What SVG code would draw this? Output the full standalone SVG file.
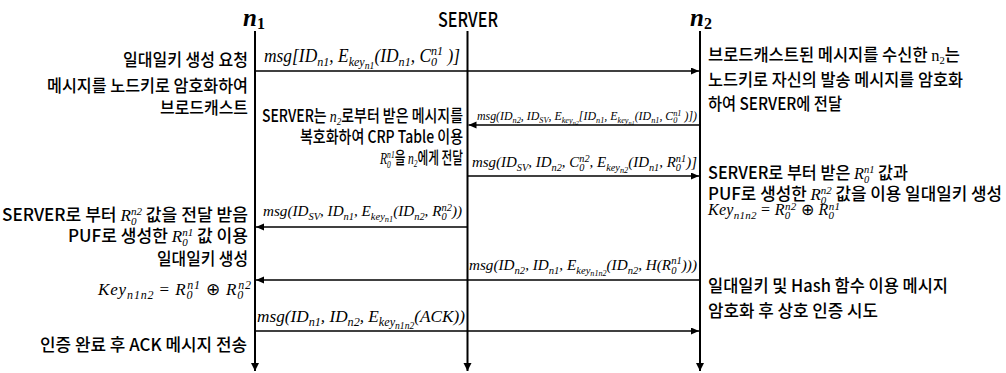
<svg xmlns="http://www.w3.org/2000/svg" width="1006" height="373" viewBox="0 0 1006 373">
  <style>
    .life { stroke:#000; stroke-width:2; fill:none; }
    .msg { stroke:#000; stroke-width:1.5; fill:none; marker-end:url(#head); }
    .hd { font-family:"Liberation Serif", serif; font-style:italic; font-weight:bold; font-size:25px; }
    .sv { font-family:"Noto Sans CJK KR", "Liberation Sans", sans-serif; font-size:20px; font-weight:500; }
    .k { font-family:"Noto Sans CJK KR", "Liberation Sans", sans-serif; font-size:17px; font-weight:500; fill:#000; }
    .m { font-family:"Liberation Serif", serif; font-style:italic; fill:#000; }
    .mi { font-family:"Liberation Serif", serif; font-style:italic; font-weight:normal; }
    .up { font-family:"Liberation Serif", serif; font-weight:normal; }
  </style>
  <defs>
    <marker id="head" markerUnits="userSpaceOnUse" markerWidth="9" markerHeight="8" refX="8" refY="3.5" orient="auto">
      <path d="M0,0 L8,3.5 L0,7 z" fill="#000"/>
    </marker>
    <marker id="down" markerUnits="userSpaceOnUse" markerWidth="10" markerHeight="10" refX="8" refY="4" orient="auto">
      <path d="M0,0 L8,4 L0,8 z" fill="#000"/>
    </marker>
  </defs>
  <rect width="1006" height="373" fill="#fff"/>

  <!-- participant n1 -->
  <g id="n1">
    <text class="hd" x="243" y="26">n<tspan font-size="16" font-style="normal" dy="3">1</tspan></text>
    <line class="life" x1="255" y1="31" x2="255" y2="371" marker-end="url(#down)"/>
  </g>

  <!-- participant SERVER -->
  <g id="server">
    <text class="sv" x="438" y="27" textLength="60" lengthAdjust="spacingAndGlyphs">SERVER</text>
    <line class="life" x1="467.5" y1="31" x2="467.5" y2="371" marker-end="url(#down)"/>
  </g>

  <!-- participant n2 -->
  <g id="n2">
    <text class="hd" x="690" y="26">n<tspan font-size="16" font-style="normal" dy="3">2</tspan></text>
    <line class="life" x1="700" y1="31" x2="700" y2="371" marker-end="url(#down)"/>
  </g>

  <!-- messages -->
  <g id="connectors">
    <line class="msg" x1="255" y1="71" x2="699" y2="71"/>
    <line class="msg" x1="700" y1="125" x2="468.5" y2="125"/>
    <line class="msg" x1="467.5" y1="176" x2="699" y2="176"/>
    <line class="msg" x1="467.5" y1="227" x2="256" y2="227"/>
    <line class="msg" x1="700" y1="280" x2="256" y2="280"/>
    <line class="msg" x1="255" y1="331" x2="699" y2="331"/>

    <!-- message labels -->
    <text class="m" x="264" y="62" font-size="18" textLength="196" lengthAdjust="spacingAndGlyphs">msg[ID<tspan font-size="12.5" dy="4">n1</tspan><tspan dy="-4">, E</tspan><tspan font-size="12.5" dy="4">key</tspan><tspan font-size="10" dy="3">n1</tspan><tspan dy="-7">(ID</tspan><tspan font-size="12.5" dy="4">n1</tspan><tspan dy="-4">, C</tspan><tspan font-size="12.5" dy="4">0</tspan><tspan font-size="12.5" dx="-6.3" dy="-11">n1</tspan><tspan dy="7"> )]</tspan></text>

    <text class="m" x="477" y="120" font-size="11.5" textLength="220" lengthAdjust="spacingAndGlyphs">msg(ID<tspan font-size="8" dy="2.5">n2</tspan><tspan dy="-2.5">,  ID</tspan><tspan font-size="8" dy="2.5">SV</tspan><tspan dy="-2.5">,  E</tspan><tspan font-size="8" dy="2.5">key</tspan><tspan font-size="6" dy="2">n2</tspan><tspan dy="-4.5">[ID</tspan><tspan font-size="8" dy="2.5">n1</tspan><tspan dy="-2.5">, E</tspan><tspan font-size="8" dy="2.5">key</tspan><tspan font-size="6" dy="2">n1</tspan><tspan dy="-4.5">(ID</tspan><tspan font-size="8" dy="2.5">n1</tspan><tspan dy="-2.5">, C</tspan><tspan font-size="8" dy="2.5">0</tspan><tspan font-size="8" dx="-4" dy="-6.5">n1</tspan><tspan dy="4"> )])</tspan></text>

    <text class="m" x="472" y="167" font-size="14.5" textLength="225" lengthAdjust="spacingAndGlyphs">msg(ID<tspan font-size="10" dy="3.5">SV</tspan><tspan dy="-3.5">, ID</tspan><tspan font-size="10" dy="3.5">n2</tspan><tspan dy="-3.5">, C</tspan><tspan font-size="10" dy="3.5">0</tspan><tspan font-size="10" dx="-5" dy="-9">n2</tspan><tspan dy="5.5">, E</tspan><tspan font-size="10" dy="3.5">key</tspan><tspan font-size="8" dy="2.5">n2</tspan><tspan dy="-6">(ID</tspan><tspan font-size="10" dy="3.5">n1</tspan><tspan dy="-3.5">, R</tspan><tspan font-size="10" dy="3.5">0</tspan><tspan font-size="10" dx="-5" dy="-9">n1</tspan><tspan dy="5.5">)]</tspan></text>

    <text class="m" x="263" y="216" font-size="14.5" textLength="199" lengthAdjust="spacingAndGlyphs">msg(ID<tspan font-size="10" dy="3.5">SV</tspan><tspan dy="-3.5">, ID</tspan><tspan font-size="10" dy="3.5">n1</tspan><tspan dy="-3.5">, E</tspan><tspan font-size="10" dy="3.5">key</tspan><tspan font-size="8" dy="2.5">n1</tspan><tspan dy="-6">(ID</tspan><tspan font-size="10" dy="3.5">n2</tspan><tspan dy="-3.5">, R</tspan><tspan font-size="10" dy="3.5">0</tspan><tspan font-size="10" dx="-5" dy="-9">n2</tspan><tspan dy="5.5">))</tspan></text>

    <text class="m" x="469" y="270" font-size="15" textLength="228" lengthAdjust="spacingAndGlyphs">msg(ID<tspan font-size="10.5" dy="3.5">n2</tspan><tspan dy="-3.5">, ID</tspan><tspan font-size="10.5" dy="3.5">n1</tspan><tspan dy="-3.5">, E</tspan><tspan font-size="10.5" dy="3.5">key</tspan><tspan font-size="8" dy="2.5">n1n2</tspan><tspan dy="-6">(ID</tspan><tspan font-size="10.5" dy="3.5">n2</tspan><tspan dy="-3.5">, H(R</tspan><tspan font-size="10.5" dy="3.5">0</tspan><tspan font-size="10.5" dx="-5.2" dy="-9.5">n1</tspan><tspan dy="6">)))</tspan></text>

    <text class="m" x="257" y="322" font-size="17" textLength="208" lengthAdjust="spacingAndGlyphs">msg(ID<tspan font-size="12" dy="4">n1</tspan><tspan dy="-4">, ID</tspan><tspan font-size="12" dy="4">n2</tspan><tspan dy="-4">, E</tspan><tspan font-size="12" dy="4">key</tspan><tspan font-size="9.5" dy="3">n1n2</tspan><tspan dy="-7">(ACK))</tspan></text>
  </g>

  <!-- n1 side notes -->
  <g id="note-n1">
    <text class="k" x="123" y="66" textLength="125" lengthAdjust="spacingAndGlyphs">일대일키 생성 요청</text>
    <text class="k" x="47" y="92" textLength="201" lengthAdjust="spacingAndGlyphs">메시지를 노드키로 암호화하여</text>
    <text class="k" x="160" y="114" textLength="88" lengthAdjust="spacingAndGlyphs">브로드캐스트</text>

    <text class="k" x="2" y="221" textLength="246" lengthAdjust="spacingAndGlyphs">SERVER로 부터 <tspan class="mi">R</tspan><tspan class="mi" font-size="11" dy="4">0</tspan><tspan class="mi" font-size="11" dx="-5.5" dy="-10">n2</tspan><tspan dy="6"> 값을 전달 받음</tspan></text>
    <text class="k" x="68" y="242" textLength="180" lengthAdjust="spacingAndGlyphs">PUF로 생성한 <tspan class="mi">R</tspan><tspan class="mi" font-size="11" dy="4">0</tspan><tspan class="mi" font-size="11" dx="-5.5" dy="-10">n1</tspan><tspan dy="6"> 값 이용</tspan></text>
    <text class="k" x="157" y="265" textLength="91" lengthAdjust="spacingAndGlyphs">일대일키 생성</text>
    <text class="m" x="98" y="295" font-size="17" textLength="153" lengthAdjust="spacing">Key<tspan font-size="12" dy="4">n1n2</tspan><tspan dy="-4" font-style="normal"> =  </tspan><tspan>R</tspan><tspan font-size="12" dy="4">0</tspan><tspan font-size="12" dx="-6" dy="-10">n1</tspan><tspan dy="6" font-style="normal"> ⊕ </tspan><tspan>R</tspan><tspan font-size="12" dy="4">0</tspan><tspan font-size="12" dx="-6" dy="-10">n2</tspan></text>
    <text class="k" x="40" y="351" textLength="207" lengthAdjust="spacingAndGlyphs">인증 완료 후 ACK 메시지 전송</text>
  </g>

  <!-- SERVER notes -->
  <g id="note-server">
    <text class="k" x="262" y="122" textLength="201" lengthAdjust="spacingAndGlyphs">SERVER는 <tspan class="mi">n</tspan><tspan class="mi" font-size="11" dy="3">2</tspan><tspan dy="-3">로부터 받은 메시지를</tspan></text>
    <text class="k" x="300" y="143" textLength="163" lengthAdjust="spacingAndGlyphs">복호화하여 CRP Table 이용</text>
    <text class="k" x="380" y="164" textLength="83" lengthAdjust="spacingAndGlyphs"><tspan class="mi">R</tspan><tspan class="mi" font-size="11" dy="4">0</tspan><tspan class="mi" font-size="11" dx="-5.5" dy="-10">n1</tspan><tspan dy="6">을 </tspan><tspan class="mi">n</tspan><tspan class="mi" font-size="11" dy="3">2</tspan><tspan dy="-3">에게 전달</tspan></text>
  </g>

  <!-- n2 side notes -->
  <g id="note-n2">
    <text class="k" x="708" y="61" textLength="252" lengthAdjust="spacingAndGlyphs">브로드캐스트된 메시지를 수신한 <tspan class="up">n</tspan><tspan class="up" font-size="11" dy="3">2</tspan><tspan dy="-3">는</tspan></text>
    <text class="k" x="708" y="86" textLength="255" lengthAdjust="spacingAndGlyphs">노드키로 자신의 발송 메시지를 암호화</text>
    <text class="k" x="708" y="110" textLength="134" lengthAdjust="spacingAndGlyphs">하여 SERVER에 전달</text>

    <text class="k" x="708" y="179" textLength="200" lengthAdjust="spacingAndGlyphs">SERVER로 부터 받은 <tspan class="mi">R</tspan><tspan class="mi" font-size="11" dy="4">0</tspan><tspan class="mi" font-size="11" dx="-5.5" dy="-10">n1</tspan><tspan dy="6"> 값과</tspan></text>
    <text class="k" x="708" y="200" textLength="294" lengthAdjust="spacingAndGlyphs">PUF로 생성한 <tspan class="mi">R</tspan><tspan class="mi" font-size="11" dy="4">0</tspan><tspan class="mi" font-size="11" dx="-5.5" dy="-10">n2</tspan><tspan dy="6"> 값을 이용 일대일키 생성</tspan></text>
    <text class="m" x="708" y="215" font-size="16" textLength="132" lengthAdjust="spacing">Key<tspan font-size="11" dy="3.5">n1n2</tspan><tspan dy="-3.5" font-style="normal"> = </tspan><tspan>R</tspan><tspan font-size="11" dy="3.5">0</tspan><tspan font-size="11" dx="-5.5" dy="-8.5">n2</tspan><tspan dy="5" font-style="normal"> ⊕ </tspan><tspan>R</tspan><tspan font-size="11" dy="3.5">0</tspan><tspan font-size="11" dx="-5.5" dy="-8.5">n1</tspan></text>

    <text class="k" x="708" y="292" textLength="240" lengthAdjust="spacingAndGlyphs">일대일키 및 Hash 함수 이용 메시지</text>
    <text class="k" x="708" y="317" textLength="170" lengthAdjust="spacingAndGlyphs">암호화 후 상호 인증 시도</text>
  </g>
</svg>
